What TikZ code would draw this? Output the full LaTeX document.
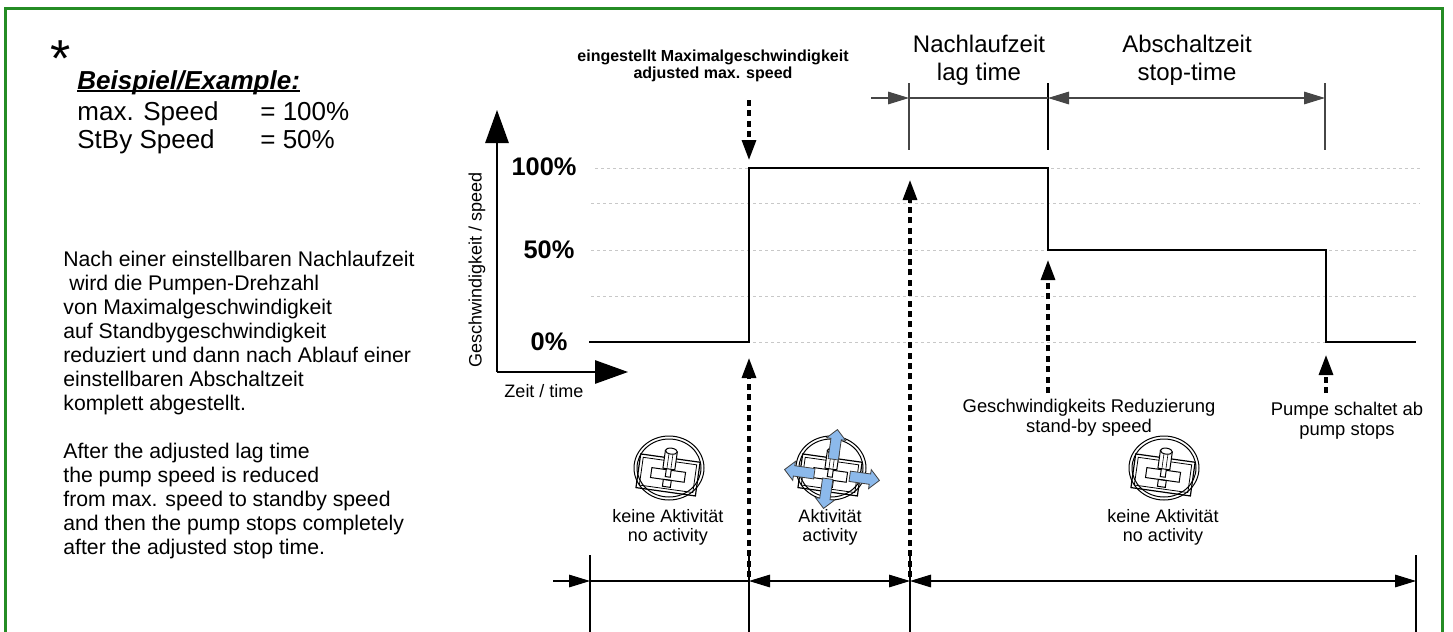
\documentclass[tikz,border=0pt]{standalone}
\usepackage{fontspec}
\setmainfont{Liberation Sans}
\usepackage{xcolor}
\usepackage{tikz}
\usetikzlibrary{positioning}
\usetikzlibrary{arrows.meta}
\usetikzlibrary{shapes.arrows}
\pgfdeclarelayer{nodelayer}
\pgfdeclarelayer{edgelayer}
\pgfsetlayers{nodelayer,edgelayer,main}
\definecolor{framegreen}{RGB}{36,140,36}
\definecolor{gridgrey}{RGB}{200,200,200}
\definecolor{dimgrey}{RGB}{70,70,70}
\definecolor{moveblue}{RGB}{140,185,235}
\tikzset{
    none/.style = {inner sep=0pt},
    star/.style = {inner sep=0pt, font=\fontsize{26}{28}\selectfont},
    head/.style = {inner sep=0pt, font=\fontsize{13}{14}\selectfont\bfseries\itshape},
    big/.style = {inner sep=0pt, font=\fontsize{13}{14}\selectfont},
    para/.style = {inner sep=0pt, align=left, font=\fontsize{10.6}{12}\selectfont},
    pct/.style = {inner sep=0pt, font=\fontsize{12.7}{14}\selectfont\bfseries},
    axlabel/.style = {inner sep=0pt, font=\fontsize{9}{10}\selectfont},
    note/.style = {inner sep=0pt, align=center, font=\fontsize{8}{8.5}\selectfont\bfseries},
    span/.style = {inner sep=0pt, align=center, font=\fontsize{12}{14}\selectfont},
    event/.style = {inner sep=0pt, align=center, font=\fontsize{9.2}{10}\selectfont},
    act/.style = {inner sep=0pt, align=center, font=\fontsize{9}{9.5}\selectfont},
    frame/.style = {framegreen, line width=1.5pt},
    grid line/.style = {gridgrey, line width=0.5pt, dash pattern=on 1.5pt off 1.5pt},
    speed/.style = {line width=1.2pt},
    axis/.style = {line width=0.8pt, -{Triangle[length=16.5pt, width=11.7pt]}},
    hint/.style = {line width=1.6pt, dash pattern=on 3pt off 2.2pt, -{Triangle[length=10pt, width=7pt]}},
    dim/.style = {dimgrey, line width=0.6pt},
    dimtip/.tip = {Triangle[length=10.5pt, width=6.3pt]},
    move/.style = {single arrow, draw=black!75, line width=0.4pt, fill=moveblue,
        inner sep=2.4pt, minimum height=15pt, single arrow head extend=2.2pt},
    pics/joystick/.style = {code = {
        \draw [line width=0.5pt, fill=white] (0, 0) ellipse [x radius=35, y radius=32];
        \draw [line width=0.5pt] (0, 0) ellipse [x radius=32, y radius=29];
        \begin{scope}[rotate=-8]
            \draw [line width=0.6pt] (-30, -10) rectangle (30, 24);
            \draw [line width=0.4pt] (-27, -7) rectangle (27, 21);
            \draw [line width=0.5pt] (-17, 2) rectangle (17, 12);
            \draw [line width=0.5pt] (-4, 12) rectangle (4, 19);
            \draw [line width=0.5pt, fill=white] (-2.5, 0) rectangle (2.5, 9);
            \draw [line width=0.5pt, fill=white] (-6, -17) rectangle (6, 1);
            \draw [line width=0.3pt] (-2, -15) -- (-2, 0) (2, -15) -- (2, 0);
            \draw [line width=0.5pt, fill=white] (0, -17) ellipse [x radius=6, y radius=3];
        \end{scope}
    }}
}

\begin{document}
\begin{tikzpicture}[x=0.5pt, y=-0.5pt]
    \useasboundingbox (0, 0) rectangle (1453, 632);
    \begin{pgfonlayer}{nodelayer}
        \node [style=none] (70) at (5, 8) {};
        \node [style=none] (71) at (1442, 700) {};
        % speed curve
        \node [style=none] (0) at (589, 342) {};
        \node [style=none] (1) at (749, 342) {};
        \node [style=none] (2) at (749, 168) {};
        \node [style=none] (3) at (1048, 168) {};
        \node [style=none] (4) at (1048, 250) {};
        \node [style=none] (5) at (1326, 250) {};
        \node [style=none] (6) at (1326, 342) {};
        \node [style=none] (7) at (1416, 342) {};
        % top dimension line
        \node [style=none] (10) at (871, 98) {};
        \node [style=none] (11) at (909, 83) {};
        \node [style=none] (12) at (909, 150) {};
        \node [style=none] (13) at (1048, 83) {};
        \node [style=none] (14) at (1048, 150) {};
        \node [style=none] (15) at (1325, 83) {};
        \node [style=none] (16) at (1325, 150) {};
        \node [style=none] (17) at (909, 98) {};
        \node [style=none] (18) at (1048, 98) {};
        \node [style=none] (19) at (1325, 98) {};
        % bottom dimension line
        \node [style=none] (20) at (553, 581) {};
        \node [style=none] (21) at (590, 555) {};
        \node [style=none] (22) at (590, 640) {};
        \node [style=none] (23) at (749, 555) {};
        \node [style=none] (24) at (749, 640) {};
        \node [style=none] (25) at (910, 555) {};
        \node [style=none] (26) at (910, 640) {};
        \node [style=none] (27) at (1416, 555) {};
        \node [style=none] (28) at (1416, 640) {};
        \node [style=none] (29) at (590, 581) {};
        \node [style=none] (30) at (749, 581) {};
        \node [style=none] (31) at (910, 581) {};
        \node [style=none] (32) at (1416, 581) {};
        % axes
        \node [style=none] (40) at (497, 372) {};
        \node [style=none] (41) at (497, 110) {};
        \node [style=none] (42) at (628, 372) {};
        % dashed hints
        \node [style=none] (50) at (749, 100) {};
        \node [style=none] (51) at (749, 160) {};
        \node [style=none] (52) at (749, 577) {};
        \node [style=none] (53) at (749, 358) {};
        \node [style=none] (54) at (910, 577) {};
        \node [style=none] (55) at (910, 180) {};
        \node [style=none] (56) at (1048, 393) {};
        \node [style=none] (57) at (1048, 260) {};
        \node [style=none] (58) at (1326, 393) {};
        \node [style=none] (59) at (1326, 355) {};
        % grid
        \node [style=none] (60) at (595, 168) {};
        \node [style=none] (61) at (1420, 168) {};
        \node [style=none] (62) at (591, 203) {};
        \node [style=none] (63) at (1420, 203) {};
        \node [style=none] (64) at (591, 250) {};
        \node [style=none] (65) at (1416, 250) {};
        \node [style=none] (66) at (591, 296) {};
        \node [style=none] (67) at (1416, 296) {};
        \node [style=none] (68) at (591, 342) {};
        \node [style=none] (69) at (1416, 342) {};
    \end{pgfonlayer}
    \begin{pgfonlayer}{edgelayer}
        \draw [style=frame] (70.center) rectangle (71.center);
        % dotted levels
        \draw [style=grid line] (60.center) to (61.center);
        \draw [style=grid line] (62.center) to (63.center);
        \draw [style=grid line] (64.center) to (65.center);
        \draw [style=grid line] (66.center) to (67.center);
        \draw [style=grid line] (68.center) to (69.center);
        % axes
        \draw [style=axis] (40.center) to (41.center);
        \draw [style=axis] (40.center) to (42.center);
        % speed over time
        \draw [style=speed] (0.center) -- (1.center) -- (2.center) -- (3.center)
            -- (4.center) -- (5.center) -- (6.center) -- (7.center);
        % lag time and stop time
        \draw [style=dim] (11.center) to (12.center);
        \draw [style=dim, black] (13.center) to (14.center);
        \draw [style=dim] (15.center) to (16.center);
        \draw [style=dim, -dimtip] (10.center) to (17.center);
        \draw [style=dim] (17.center) to (18.center);
        \draw [style=dim, dimtip-dimtip] (18.center) to (19.center);
        % activity spans
        \draw [style=dim, black] (21.center) to (22.center);
        \draw [style=dim, black] (23.center) to (24.center);
        \draw [style=dim, black] (25.center) to (26.center);
        \draw [style=dim, black] (27.center) to (28.center);
        \draw [style=dim, black, -dimtip] (20.center) to (29.center);
        \draw [style=dim, black] (29.center) to (30.center);
        \draw [style=dim, black, dimtip-dimtip] (30.center) to (31.center);
        \draw [style=dim, black, dimtip-dimtip] (31.center) to (32.center);
        % dashed hints
        \draw [style=hint] (50.center) to (51.center);
        \draw [style=hint] (52.center) to (53.center);
        \draw [style=hint] (54.center) to (55.center);
        \draw [style=hint] (56.center) to (57.center);
        \draw [style=hint] (58.center) to (59.center);
    \end{pgfonlayer}
    % example values
    \node [style=star, anchor=base west] (star) at (50, 76) {*};
    \node [style=head, anchor=base west] (example) at (77, 89) {Beispiel/Example:};
    \draw [line width=0.7pt] ([yshift=-1pt]example.base west) -- ([yshift=-1pt]example.base east);
    \node [style=big, anchor=base west] (maxspeed) at (77, 120) {max. Speed};
    \node [style=big, anchor=base west] (maxval) at (260, 120) {= 100\%};
    \node [style=big, anchor=base west] (stbyspeed) at (77, 148) {StBy Speed};
    \node [style=big, anchor=base west] (stbyval) at (260, 148) {= 50\%};
    \node [style=para, anchor=north west] (info) at (63, 251) {Nach einer einstellbaren Nachlaufzeit\\
        \hspace*{0.28em}wird die Pumpen-Drehzahl\\
        von Maximalgeschwindigkeit\\
        auf Standbygeschwindigkeit\\
        reduziert und dann nach Ablauf einer\\
        einstellbaren Abschaltzeit\\
        komplett abgestellt.\\[12pt]
        After the adjusted lag time\\
        the pump speed is reduced\\
        from max. speed to standby speed\\
        and then the pump stops completely\\
        after the adjusted stop time.};
    % axis labels
    \node [style=pct] (p100) at (544, 167) {100\%};
    \node [style=pct] (p50) at (549, 250) {50\%};
    \node [style=pct] (p0) at (549, 342) {0\%};
    \node [style=axlabel, rotate=90] (yaxis) at (477, 270) {Geschwindigkeit / speed};
    \node [style=axlabel] (xaxis) at (544, 391) {Zeit / time};
    % event labels
    \node [style=note] (adjusted) at (713, 66) {eingestellt Maximalgeschwindigkeit\\adjusted max. speed};
    \node [style=span] (lag) at (979, 60) {Nachlaufzeit\\lag time};
    \node [style=span] (stop) at (1187, 60) {Abschaltzeit\\stop-time};
    \node [style=event] (reduce) at (1089, 418) {Geschwindigkeits Reduzierung\\stand-by speed};
    \node [style=event] (pumpoff) at (1347, 421) {Pumpe schaltet ab\\pump stops};
    % operator activity
    \pic (idle1) at (669, 468) {joystick};
    \pic (busy) at (831, 468) {joystick};
    \node [style=move, rotate=82] (up) at (835, 447) {};
    \node [style=move, rotate=-98] (down) at (826, 491) {};
    \node [style=move, rotate=172] (left) at (802, 472) {};
    \node [style=move, rotate=-8] (right) at (862, 478) {};
    \pic (idle2) at (1164, 468) {joystick};
    \node [style=act] (idle1text) at (668, 527) {keine Aktivität\\no activity};
    \node [style=act] (activetext) at (830, 527) {Aktivität\\activity};
    \node [style=act] (idle2text) at (1163, 527) {keine Aktivität\\no activity};
\end{tikzpicture}
\end{document}
